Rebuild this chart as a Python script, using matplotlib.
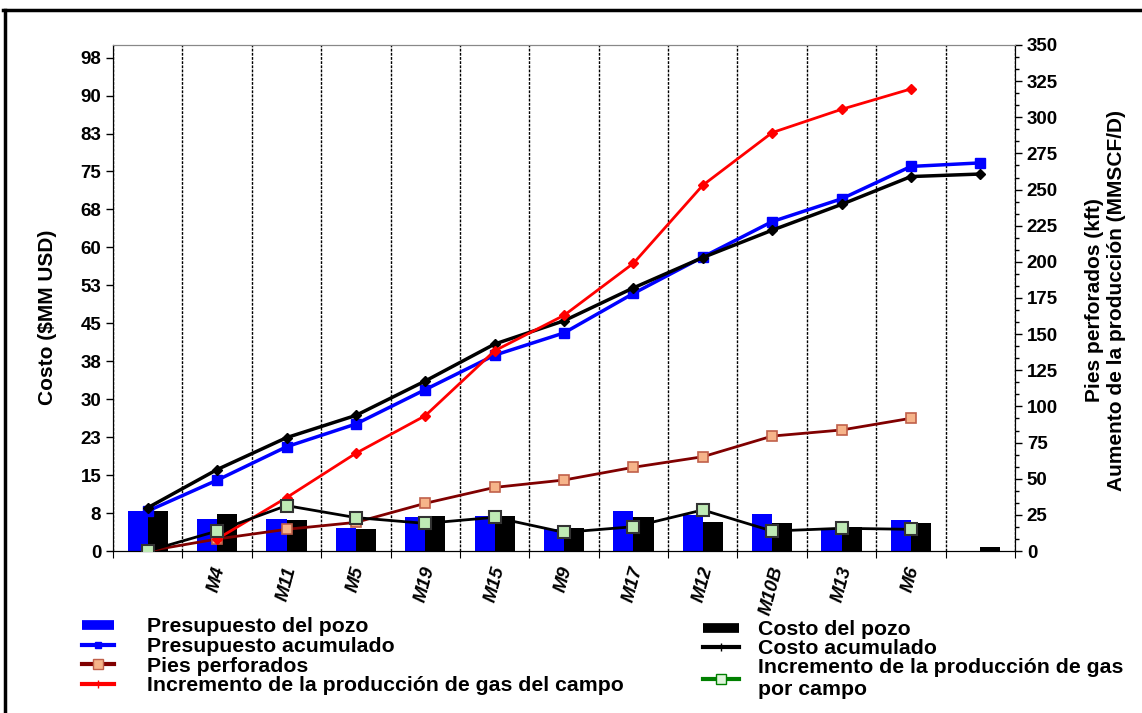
import numpy as np
import matplotlib
matplotlib.use('Agg')
import matplotlib.pyplot as plt
from matplotlib.lines import Line2D
from matplotlib.ticker import MultipleLocator

plt.rcParams['font.family'] = ['Liberation Sans', 'DejaVu Sans']
plt.rcParams['font.weight'] = 'bold'

# Datos
pozos = ['', 'M4', 'M11', 'M5', 'M19', 'M15', 'M9', 'M17', 'M12', 'M10B', 'M13', 'M6', '']
presupuesto_pozo = [7.9, 6.4, 6.4, 4.6, 6.65, 7.0, 4.3, 7.9, 7.1, 7.3, 4.5, 6.1, 0.0]
costo_pozo = [7.9, 7.3, 6.05, 4.3, 7.0, 7.0, 4.6, 6.65, 5.8, 5.45, 4.8, 5.45, 0.7]
presupuesto_acum = [7.9, 14.0, 20.6, 25.1, 31.9, 38.7, 43.1, 50.9, 58.1, 65.1, 69.6, 76.0, 76.7]
costo_acum = [8.55, 16.1, 22.4, 26.8, 33.6, 40.9, 45.5, 52.0, 58.0, 63.4, 68.5, 74.0, 74.5]
pies_perforados = [0, 8.3, 15.0, 19.8, 33.0, 44.0, 49.1, 57.9, 65.2, 79.5, 83.7, 91.8, np.nan]
gas_campo = [np.nan, 8.3, 36.9, 67.6, 93.6, 138.5, 163.0, 199.0, 253.0, 289.4, 305.5, 319.6, np.nan]
gas_por_campo = [0, 13.8, 31.4, 23.1, 19.1, 23.3, 12.9, 16.8, 28.4, 13.8, 15.7, 15.0, np.nan]

ticks_izq = [0, 7.5, 15, 22.5, 30, 37.5, 45, 52.5, 60, 67.5, 75, 82.5, 90, 97.5]
etiquetas_izq = ['0', '8', '15', '23', '30', '38', '45', '53', '60', '68', '75', '83', '90', '98']

x = np.arange(len(pozos))
ancho = 0.29

fig = plt.figure(figsize=(11.42, 7.13), dpi=100)
ax = fig.add_axes([0.099, 0.2272, 0.7898, 0.7097])
ax2 = ax.twinx()

# Barras
ax.bar(x - ancho / 2, presupuesto_pozo, ancho, color='#0000ff', zorder=2)
ax.bar(x + ancho / 2, costo_pozo, ancho, color='black', zorder=2)

# Acumulados (eje izquierdo)
ax.plot(x, presupuesto_acum, color='#0000ff', lw=2.5, marker='s', ms=6.5, zorder=4)
ax.plot(x, costo_acum, color='black', lw=2.5, marker='D', ms=5, zorder=4)

# Eje derecho
ax2.plot(x, pies_perforados, color='#800000', lw=2, marker='s', ms=6.5,
         mfc='#f6b48a', mec='#c0604a', mew=1.2, zorder=3)
ax2.plot(x, gas_campo, color='#ff0000', lw=2, marker='D', ms=5, zorder=4)
ax2.plot(x, gas_por_campo, color='black', lw=2, marker='s', ms=8,
         mfc='#bfeab5', mec='#333333', mew=1.5, zorder=5)

ax.set_xlim(-0.5, len(pozos) - 0.5)
ax.set_ylim(0, 100)
ax2.set_ylim(0, 350)

ax.set_yticks(ticks_izq)
ax.set_yticklabels(etiquetas_izq)
ax2.yaxis.set_major_locator(MultipleLocator(25))
ax2.yaxis.set_minor_locator(MultipleLocator(25 / 3))

ax.set_xticks(np.arange(len(pozos) + 1) - 0.5)
ax.set_xticklabels([])
ax.set_xticks(x, minor=True)
ax.set_xticklabels(pozos, minor=True, rotation=75, ha='center', va='top',
                   fontsize=13.5, fontweight='bold', fontstyle='italic')
ax.tick_params(axis='x', which='minor', length=0, pad=10)
ax.tick_params(axis='x', which='major', length=5, direction='out')
ax.grid(axis='x', which='major', color='black', linestyle=(0, (2, 1)), lw=1)

for lab in ax.get_yticklabels() + ax2.get_yticklabels():
    lab.set_family(['Liberation Sans Narrow', 'Liberation Sans'])
    lab.set_fontsize(13.5)
    lab.set_fontweight('bold')
ax.tick_params(axis='y', length=5, width=1)
ax2.tick_params(axis='y', which='major', length=5, width=1)
ax2.tick_params(axis='y', which='minor', length=3, width=1)

ax.spines['top'].set_color('#888888')
ax2.spines['top'].set_color('#888888')

ax.set_ylabel('Costo ($MM USD)', fontsize=15, fontweight='bold')
ax.yaxis.set_label_coords(-0.062, 0.4625)
ax2.set_ylabel('Pies perforados (kft)\nAumento de la producción (MMSCF/D)',
               fontsize=15, fontweight='bold', multialignment='center')
ax2.yaxis.set_label_coords(1.078, 0.496)

# Leyendas
h_izq = [
    Line2D([], [], color='#0000ff', lw=7, solid_capstyle='butt'),
    Line2D([], [], color='#0000ff', lw=3, marker='s', ms=4),
    Line2D([], [], color='#800000', lw=3, marker='s', ms=7, mfc='#f6b48a', mec='#c0604a'),
    Line2D([], [], color='#ff0000', lw=3, marker='|', ms=6),
]
l_izq = ['Presupuesto del pozo', 'Presupuesto acumulado', 'Pies perforados',
         'Incremento de la producción de gas del campo']
h_der = [
    Line2D([], [], color='black', lw=7, solid_capstyle='butt'),
    Line2D([], [], color='black', lw=3, marker='|', ms=6),
    Line2D([], [], color='#008000', lw=3, marker='s', ms=7, mfc='#e0f5dc', mec='#008000'),
]
l_der = ['Costo del pozo', 'Costo acumulado',
         'Incremento de la producción de gas\npor campo']
prop = {'weight': 'bold', 'size': 15.3}
fig.legend(h_izq, l_izq, loc='upper left', bbox_to_anchor=(0.0718, 0.134),
           frameon=False, prop=prop, borderpad=0, borderaxespad=0,
           handlelength=1.5, handletextpad=1.55, labelspacing=0.03)
fig.legend(h_der, l_der, loc='upper left', bbox_to_anchor=(0.6156, 0.130),
           frameon=False, prop=prop, borderpad=0, borderaxespad=0,
           handlelength=1.7, handletextpad=0.9, labelspacing=0.0)

# Marco de la figura
fig.add_artist(Line2D([0.003, 1.0], [0.986, 0.986], color='black', lw=2.5,
                      transform=fig.transFigure))
fig.add_artist(Line2D([0.004, 0.004], [0.0, 0.986], color='black', lw=2.5,
                      transform=fig.transFigure))

fig.savefig('out.png', dpi=100)
plt.close(fig)
